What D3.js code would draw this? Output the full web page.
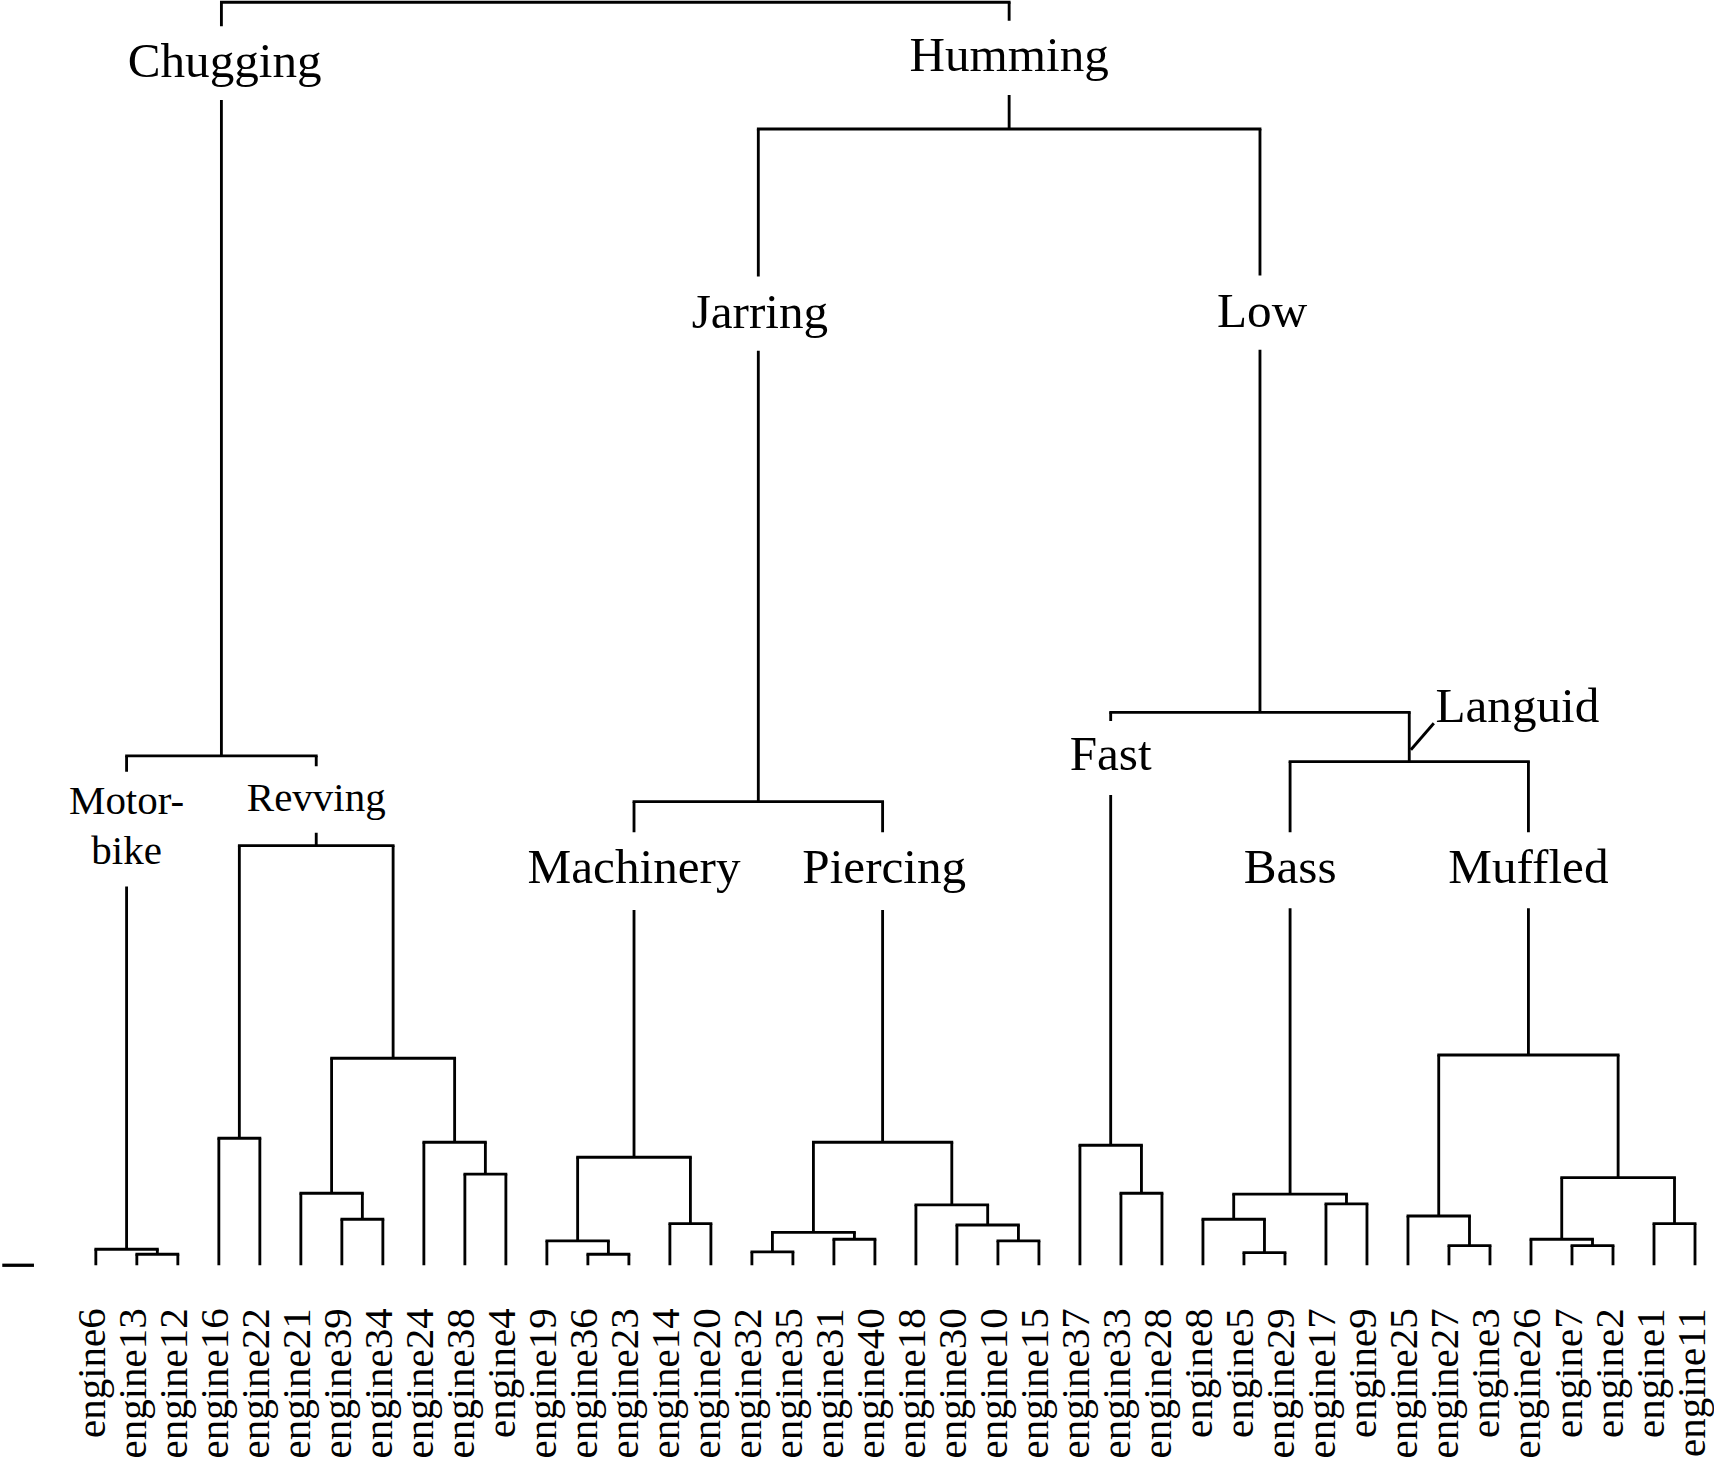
<!DOCTYPE html>
<html>
<head>
<meta charset="utf-8">
<script src="https://cdn.jsdelivr.net/npm/d3@7"></script>
<style>
  body { margin: 0; background: #fff; }
  svg { display: block; }
  text { font-family: "Liberation Serif", "Times New Roman", serif; fill: #000; }
</style>
</head>
<body>
<svg id="chart"></svg>
<script>
// leaf order along the bottom
const leaves = ["engine6","engine13","engine12","engine16","engine22","engine21","engine39","engine34",
  "engine24","engine38","engine4","engine19","engine36","engine23","engine14","engine20","engine32",
  "engine35","engine31","engine40","engine18","engine30","engine10","engine15","engine37","engine33",
  "engine28","engine8","engine5","engine29","engine17","engine9","engine25","engine27","engine3",
  "engine26","engine7","engine2","engine1","engine11"];

// merges, bottom up ("mN" = result of merge N), heights on a 0-100 scale
const mergeLeft  = ["engine13","engine6","engine16","engine39","engine21","engine38","engine24","m4","m2","m1",
  "engine36","engine19","engine14","m11","engine32","engine31","m14","engine10","engine30","engine18","m16","m13",
  "engine33","engine37","engine5","engine8","engine17","m25","engine27","engine25","engine7","engine26","engine1",
  "m31","m29","m27","m23","m21","m9"];
const mergeRight = ["engine12","m0","engine22","engine34","m3","engine4","m5","m6","m7","m8",
  "engine23","m10","engine20","m12","engine35","engine40","m15","engine15","m17","m18","m19","m20",
  "engine28","m22","engine29","m24","engine9","m26","engine3","m28","engine2","m30","engine11",
  "m32","m33","m34","m35","m36","m37"];
const mergeHeight = [0.87,1.27,10.06,3.64,5.70,7.21,9.74,16.39,33.23,40.33,
  0.87,1.93,3.30,8.55,1.06,2.06,2.61,1.93,3.19,4.78,9.74,36.71,
  5.70,9.50,1.00,3.64,4.86,5.63,1.56,3.90,1.56,2.06,3.30,
  6.94,16.65,39.88,43.78,89.97,100];

// cluster names by merge index
const clusterNames = {
  1: ["Motor-", "bike"], 8: ["Revving"], 9: ["Chugging"],
  13: ["Machinery"], 20: ["Piercing"], 21: ["Jarring"],
  23: ["Fast"], 27: ["Bass"], 34: ["Muffled"], 35: ["Languid"],
  36: ["Low"], 37: ["Humming"]
};

// where each name sits (drawing frame units) and the break it cuts into its branch
const labelLayout = {
  1:  { base: [745, 790.4], size: 37.5, gap: [706, 811] },
  8:  { base: [741.6], size: 37.5, gap: [701, 762] },
  9:  { base: [70.7], size: 45, gap: [24, 91.5], dx: 3 },
  13: { base: [807.5], size: 45, gap: [761.5, 832.5] },
  20: { base: [807.5], size: 45, gap: [761.5, 832.5], dx: 1.5 },
  21: { base: [300], size: 45, gap: [253, 321], dx: 1.5 },
  23: { base: [704.4], size: 45, gap: [659.6, 727.3] },
  27: { base: [807.5], size: 45, gap: [761.5, 831] },
  34: { base: [807.5], size: 45, gap: [761.5, 831] },
  35: { base: [661], size: 45, anchor: "start", dx: 24, leader: [[1.5, 686], [22.5, 661.7]] },
  36: { base: [299], size: 45, gap: [252, 320], dx: 2 },
  37: { base: [65], size: 45, gap: [19, 87] }
};

const W = 1568, H = 1337.6;
const stroke = 2.6;

const svg = d3.select("#chart")
  .attr("width", 1714)
  .attr("height", 1462)
  .attr("viewBox", "0 0 " + W + " " + H);

let x = d3.scalePoint().domain(leaves).range([87.6, 1550.7]);
let y = d3.scaleLinear().domain([0, 100]).range([1157.6, 2.1]);

// build the tree from the merge table
const nodes = {};
leaves.forEach(name => nodes[name] = { name: name, h: 0 });
mergeLeft.forEach((l, i) => {
  nodes["m" + i] = { name: "m" + i, idx: i, h: mergeHeight[i],
    children: [nodes[l], nodes[mergeRight[i]]] };
});
const root = d3.hierarchy(nodes["m" + (mergeLeft.length - 1)]);

root.eachAfter(d => {
  d.x = d.children ? d3.mean(d.children, c => c.x) : x(d.data.name);
  d.y = y(d.data.h);
});

const g = svg.append("g")
  .attr("fill", "none")
  .attr("stroke", "#000")
  .attr("stroke-width", stroke);

// horizontal bars
g.selectAll(".bar")
  .data(root.descendants().filter(d => d.children))
  .join("line")
    .attr("class", "bar")
    .attr("x1", d => d.children[0].x - stroke / 2)
    .attr("x2", d => d.children[1].x + stroke / 2)
    .attr("y1", d => d.y)
    .attr("y2", d => d.y);

// vertical branches, broken where a name sits
function branch(d) {
  const lay = labelLayout[d.data.idx];
  if (lay && lay.gap) {
    return "M" + d.x + "," + d.parent.y + "V" + lay.gap[0] +
           "M" + d.x + "," + lay.gap[1] + "V" + d.y;
  }
  return "M" + d.x + "," + d.parent.y + "V" + d.y;
}
g.selectAll(".branch")
  .data(root.descendants().filter(d => d.parent))
  .join("path")
    .attr("class", "branch")
    .attr("d", branch);

// little tick at the left of the baseline
svg.append("line")
  .attr("x1", 2).attr("x2", 31)
  .attr("y1", y(0)).attr("y2", y(0))
  .attr("stroke", "#000")
  .attr("stroke-width", 3);

// cluster names
const named = root.descendants().filter(d => d.children && clusterNames[d.data.idx]);
named.forEach(d => {
  const lay = labelLayout[d.data.idx];
  const t = svg.append("text")
    .attr("text-anchor", lay.anchor || "middle")
    .attr("font-size", lay.size);
  clusterNames[d.data.idx].forEach((line, k) => {
    t.append("tspan")
      .attr("x", d.x + (lay.dx || 0))
      .attr("y", lay.base[k])
      .text(line);
  });
  if (lay.leader) {
    svg.append("line")
      .attr("x1", d.x + lay.leader[0][0]).attr("y1", lay.leader[0][1])
      .attr("x2", d.x + lay.leader[1][0]).attr("y2", lay.leader[1][1])
      .attr("stroke", "#000")
      .attr("stroke-width", stroke);
  }
});

// leaf names, rotated
svg.selectAll(".leaf")
  .data(leaves)
  .join("text")
    .attr("class", "leaf")
    .attr("font-size", 37.5)
    .attr("text-anchor", "end")
    .attr("transform", d => "translate(" + (x(d) + 8.7) + ",1197) rotate(-90)")
    .text(d => d);
</script>
</body>
</html>
